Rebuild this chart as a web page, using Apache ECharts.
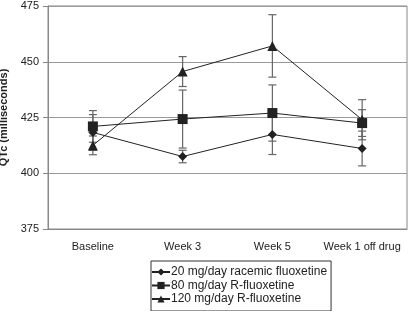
<!DOCTYPE html>
<html lang="en">
<head>
    <meta charset="UTF-8">
    <title>QTc</title>
    <script src="https://cdn.jsdelivr.net/npm/echarts@6/dist/echarts.min.js"></script>
    <style>
        html, body { margin: 0; padding: 0; background: #fff; }
        #chart { width: 409px; height: 311px; }
    </style>
</head>
<body>
    <div id="chart"></div>
<script>
    var categories = ['Baseline', 'Week 3', 'Week 5', 'Week 1 off drug'];
    var yTicks = [375, 400, 425, 450, 475];

    // means (ms)
    var racemic20 = [418.3, 407.5, 417.4, 411.1];
    var rflu80 = [421.0, 424.3, 427.0, 422.5];
    var rflu120 = [412.5, 445.6, 457.1, 424.0];

    // error bar half-widths (ms)
    var racemic20Err = [8.0, 2.8, 9.0, 7.8];
    var rflu80Err = [7.1, 13.0, 12.6, 6.0];
    var rflu120Err = [4.2, 6.7, 14.0, 9.0];

    var names = ['20 mg/day racemic fluoxetine', '80 mg/day R-fluoxetine', '120 mg/day R-fluoxetine'];

    function errData(means, errs) {
        return means.map(function (m, i) {
            return [i, m - errs[i], m + errs[i]];
        });
    }

    function errSeries(means, errs) {
        return {
            type: 'custom',
            z: 1,
            silent: true,
            data: errData(means, errs),
            renderItem: function (params, api) {
                var lo = api.coord([api.value(0), api.value(1)]);
                var hi = api.coord([api.value(0), api.value(2)]);
                var w = 4;
                var st = { stroke: '#666', lineWidth: 1.2 };
                return {
                    type: 'group',
                    children: [
                        { type: 'line', shape: { x1: lo[0], y1: lo[1], x2: hi[0], y2: hi[1] }, style: st },
                        { type: 'line', shape: { x1: lo[0] - w, y1: lo[1], x2: lo[0] + w, y2: lo[1] }, style: st },
                        { type: 'line', shape: { x1: hi[0] - w, y1: hi[1], x2: hi[0] + w, y2: hi[1] }, style: st }
                    ]
                };
            }
        };
    }

    function lineSeries(name, data, symbol, size) {
        return {
            name: name,
            type: 'line',
            z: 3,
            data: data,
            symbol: symbol,
            symbolSize: size,
            lineStyle: { color: '#222', width: 1 },
            itemStyle: { color: '#222' }
        };
    }

    var chart = echarts.init(document.getElementById('chart'));
    chart.setOption({
        animation: false,
        textStyle: { fontFamily: 'Liberation Sans, Arial, sans-serif' },
        grid: {
            left: 48, right: 2, top: 6, bottom: 82,
            outerBoundsMode: 'none',
            show: true, borderColor: '#888', borderWidth: 1
        },
        legend: {
            orient: 'vertical',
            left: 151,
            top: 261,
            padding: [5, 4, 6, 0],
            itemGap: 1.5,
            itemWidth: 18,
            itemHeight: 9,
            borderColor: '#333',
            borderWidth: 1,
            textStyle: { fontSize: 12, color: '#222', padding: [0, 0, 0, -4] },
            data: names
        },
        xAxis: {
            type: 'category',
            data: categories,
            boundaryGap: true,
            axisLine: { lineStyle: { color: '#888' } },
            axisTick: { show: false },
            axisLabel: { color: '#222', fontSize: 11, margin: 12, interval: 0 }
        },
        yAxis: {
            type: 'value',
            min: yTicks[0],
            max: yTicks[yTicks.length - 1],
            interval: 25,
            name: 'QTc (milliseconds)',
            nameLocation: 'middle',
            nameGap: 35,
            nameTextStyle: { fontSize: 11, fontWeight: 'bold', color: '#222' },
            axisLine: { show: true, lineStyle: { color: '#888' } },
            axisTick: { show: true, length: 5, lineStyle: { color: '#888' } },
            axisLabel: { color: '#222', fontSize: 11, margin: 9 },
            splitLine: { lineStyle: { color: '#999', width: 1 } }
        },
        series: [
            errSeries(racemic20, racemic20Err),
            errSeries(rflu80, rflu80Err),
            errSeries(rflu120, rflu120Err),
            lineSeries(names[0], racemic20, 'diamond', 9),
            lineSeries(names[1], rflu80, 'rect', 10),
            lineSeries(names[2], rflu120, 'triangle', 10)
        ]
    });
</script>
</body>
</html>
